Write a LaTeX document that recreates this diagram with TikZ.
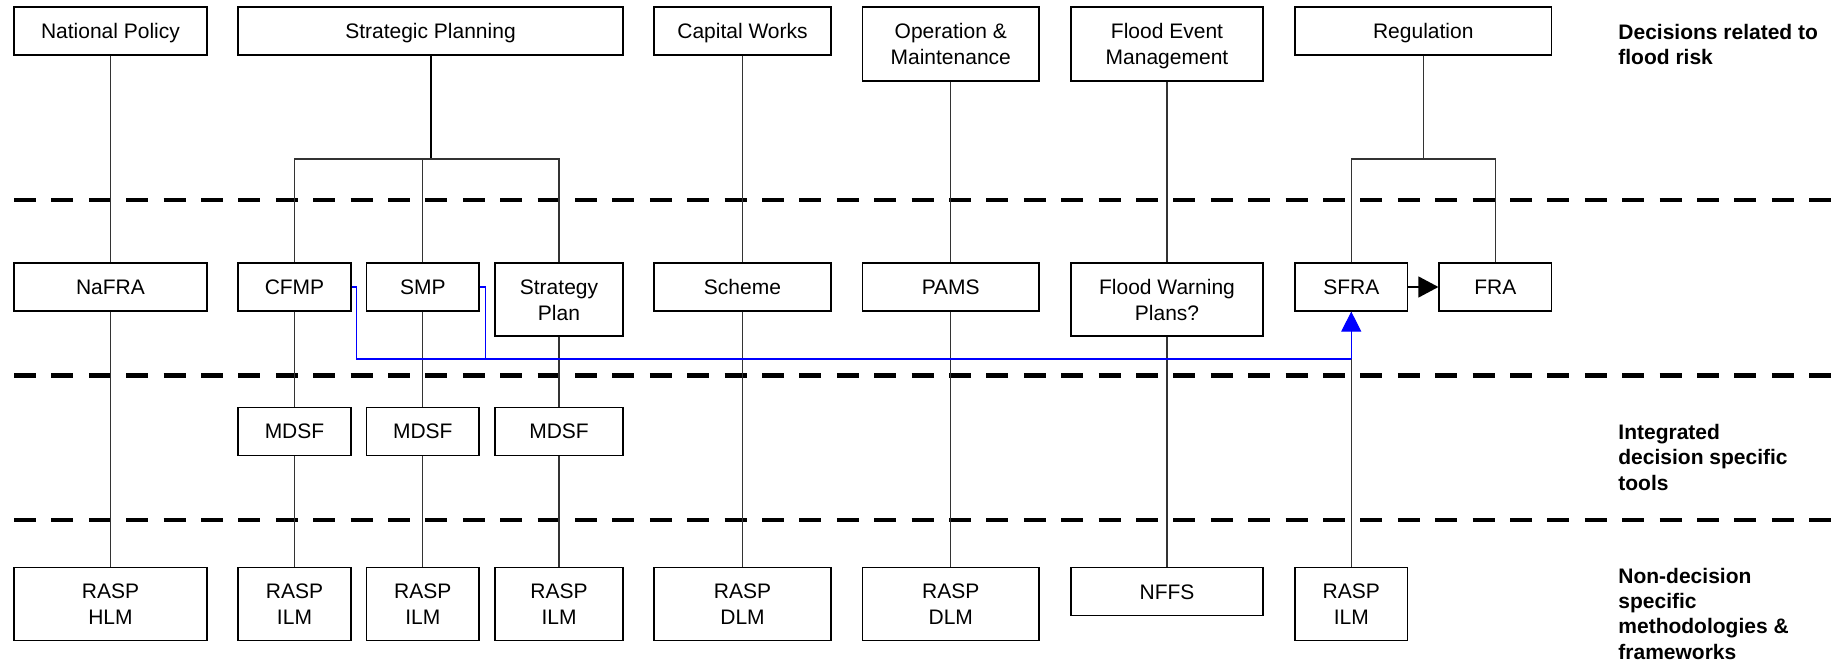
\documentclass[tikz,border=0pt]{standalone}
\usepackage{fontspec}
\setmainfont{Liberation Sans}
\usetikzlibrary{arrows.meta}
\begin{document}
\begin{tikzpicture}[x=0.5pt,y=-0.5pt,
font=\fontsize{10.5}{13}\selectfont,
block/.style={draw,rectangle,inner sep=0pt,line width=0.6pt,align=center,minimum height=24pt,text height=7.6pt,text depth=0pt},
tall/.style={minimum height=36.5pt,text height=20.6pt},
link/.style={draw=black!80,line width=0.55pt},
layer/.style={line width=2.3pt,dash pattern=on 11pt off 7.7pt},
bluelink/.style={draw=blue,line width=0.55pt},
layertext/.style={anchor=north west,inner sep=0pt,align=left,font=\fontsize{10.5}{12.65}\selectfont\bfseries}]

\useasboundingbox (0,0) rectangle (1832,662);

% layer separators
\draw[layer] (14,200) -- (1832,200);
\draw[layer] (14,375.7) -- (1832,375.7);
\draw[layer] (14,520) -- (1832,520);

% decisions
\draw (110.5,31) node[block,minimum width=96.5pt] (NP) {National Policy};
\draw (430.5,31) node[block,minimum width=192.5pt] (SP) {Strategic Planning};
\draw (742.5,31) node[block,minimum width=88.5pt] (CW) {Capital Works};
\draw (950.75,44) node[block,tall,minimum height=37pt,minimum width=88.25pt] (OM) {Operation \&\\Maintenance};
\draw (1167,44) node[block,tall,minimum height=37pt,minimum width=96pt] (FEM) {Flood Event\\Management};
\draw (1423.25,31) node[block,minimum width=128.25pt] (REG) {Regulation};

% decision specific
\draw (110.5,287) node[block,minimum width=96.5pt] (NaFRA) {NaFRA};
\draw (294.5,287) node[block,minimum width=56.5pt] (CFMP) {CFMP};
\draw (422.75,287) node[block,minimum width=56.25pt] (SMP) {SMP};
\draw (559,299.5) node[block,tall,minimum width=64pt] (SPL) {Strategy\\Plan};
\draw (742.5,287) node[block,minimum width=88.5pt] (SCH) {Scheme};
\draw (950.75,287) node[block,minimum width=88.25pt] (PAMS) {PAMS};
\draw (1167,299.5) node[block,tall,minimum width=96pt] (FWP) {Flood Warning\\Plans?};
\draw (1351.25,287) node[block,minimum width=56.25pt] (SFRA) {SFRA};
\draw (1495.25,287) node[block,minimum width=56.25pt] (FRA) {FRA};

% integrated tools
\draw (294.5,431.3) node[block,minimum width=56.5pt] (MD1) {MDSF};
\draw (422.75,431.3) node[block,minimum width=56.25pt] (MD2) {MDSF};
\draw (559,431.3) node[block,minimum width=64pt] (MD3) {MDSF};

% methodologies
\draw (110.5,604.3) node[block,tall,minimum width=96.5pt] (HLM) {RASP\\HLM};
\draw (294.5,604.3) node[block,tall,minimum width=56.5pt] (ILM1) {RASP\\ILM};
\draw (422.75,604.3) node[block,tall,minimum width=56.25pt] (ILM2) {RASP\\ILM};
\draw (559,604.3) node[block,tall,minimum width=64pt] (ILM3) {RASP\\ILM};
\draw (742.5,604.3) node[block,tall,minimum width=88.5pt] (DLM1) {RASP\\DLM};
\draw (950.75,604.3) node[block,tall,minimum width=88.25pt] (DLM2) {RASP\\DLM};
\draw (1167,591.5) node[block,minimum width=96pt] (NFFS) {NFFS};
\draw (1351.25,604.3) node[block,tall,minimum width=56.25pt] (ILM4) {RASP\\ILM};

% layer labels
\node[layertext] (L1) at (1618,24) {Decisions related to\\flood risk};
\node[layertext] (L2) at (1618,424) {Integrated\\decision specific\\tools};
\node[layertext] (L3) at (1618,567.7) {Non-decision\\specific\\methodologies \&\\frameworks};

\coordinate (spfork) at (430.5,159);
\coordinate (regfork) at (1423.25,159);
\coordinate (bus) at (1351.25,359);

\draw[line width=1pt] (SP) -- (spfork);
\draw[link] (CFMP.north) |- (spfork) -| (SPL.north);
\draw[link] (SMP.north) -- (SMP.north |- spfork);
\draw[link] (REG) -- (regfork);
\draw[link] (SFRA.north) |- (regfork) -| (FRA.north);

\draw[link] (NP) -- (NaFRA);
\draw[link] (NaFRA) -- (HLM);
\draw[link] (CFMP) -- (MD1);
\draw[link] (MD1) -- (ILM1);
\draw[link] (SMP) -- (MD2);
\draw[link] (MD2) -- (ILM2);
\draw[link] (SPL) -- (MD3);
\draw[link] (MD3) -- (ILM3);
\draw[link] (CW) -- (SCH);
\draw[link] (SCH) -- (DLM1);
\draw[link] (OM) -- (PAMS);
\draw[link] (PAMS) -- (DLM2);
\draw[link] (FEM) -- (FWP);
\draw[link] (FWP) -- (NFFS);
\draw[link] (SFRA) -- (ILM4);

\draw[line width=0.6pt,-{Triangle[length=10pt,width=10.5pt]}] (SFRA) -- (FRA);

\draw[bluelink] (CFMP.east) -- ++(5,0) |- (bus);
\draw[bluelink] (SMP.east) -- ++(6,0) |- (bus);
\draw[bluelink,-{Triangle[length=10pt,width=10pt]}] (bus) -- (SFRA);

\end{tikzpicture}
\end{document}
